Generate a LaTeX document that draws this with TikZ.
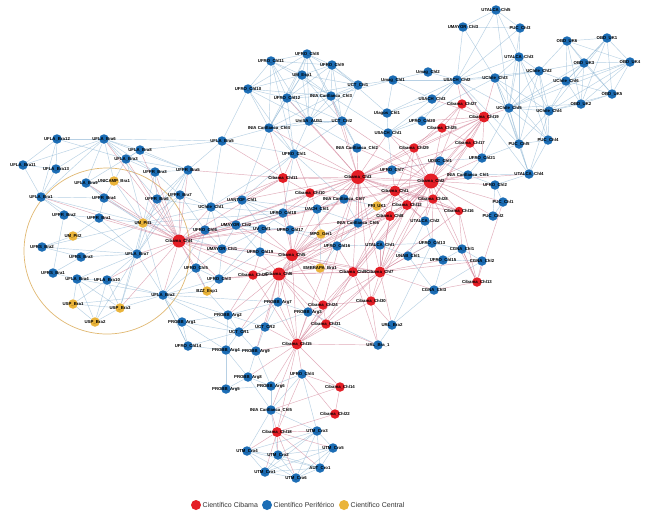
\documentclass[tikz,border=0pt]{standalone}
\usepackage{fontspec}
\setmainfont{Liberation Sans}
\usetikzlibrary{backgrounds}
\definecolor{nred}{RGB}{228,30,38}
\definecolor{nblue}{RGB}{28,109,181}
\definecolor{nyel}{RGB}{234,180,58}
\definecolor{eblue}{RGB}{135,178,210}
\definecolor{ered}{RGB}{205,115,140}
\definecolor{ring}{RGB}{225,185,115}
\tikzset{
  bn/.style={circle,fill=nblue,inner sep=0pt,minimum size=9.5pt},
  rn/.style={circle,fill=nred,inner sep=0pt},
  yn/.style={circle,fill=nyel,inner sep=0pt,minimum size=9.5pt},
  lbl/.style={inner sep=0pt,font=\fontsize{4.3}{5}\selectfont\bfseries,text=black},
  eb/.style={draw=eblue,line width=0.45pt,draw opacity=0.6},
  er/.style={draw=ered,line width=0.45pt,draw opacity=0.6},
  legtext/.style={inner sep=0pt,anchor=west,font=\fontsize{7}{8}\selectfont,text=black!80}
}
\newcommand\Bn[3]{\node[bn,label={[lbl]center:#3}] (#1) at (#2) {};}
\newcommand\Rn[4]{\node[rn,minimum size=#3pt,label={[lbl]center:#4}] (#1) at (#2) {};}
\newcommand\Yn[3]{\node[yn,label={[lbl]center:#3}] (#1) at (#2) {};}
\begin{document}
\begin{tikzpicture}[x=1pt,y=-1pt]
\useasboundingbox (0,0) rectangle (650,520);
% top cluster
\Bn{f8}{307,54}{UFRO\_Chl8}
\Bn{f11}{271,61}{UFRO\_Chl11}
\Bn{f9}{332,65}{UFRO\_Chl9}
\Bn{ume}{302,75}{UM\_Esp1}
\Bn{uct1}{358,85}{UCT\_Chl1}
\Bn{f10}{248,89}{UFRO\_Chl10}
\Bn{in3}{331,96}{INIA Carillanca\_Chl3}
\Bn{f12}{287,98}{UFRO\_Chl12}
\Bn{usa}{309,121}{UniSA\_AUS1}
\Bn{uct2}{342,121}{UCT\_Chl2}
\Bn{in4}{269,128}{INIA Carillanca\_Chl4}
\Bn{f1}{294,154}{UFRO\_Chl1}
\Bn{in2}{357,148}{INIA Carillanca\_Chl2}
% top right
\Bn{ut5}{496,10}{UTALCA\_Chl5}
\Bn{um3}{463,27}{UMAYOR\_Chl3}
\Bn{pc3}{520,28}{PUC\_Chl3}
\Bn{ut3}{519,57}{UTALCA\_Chl3}
\Bn{uc2}{539,71}{UChile\_Chl2}
\Bn{mg2}{428,72}{Umag\_Chl2}
\Bn{mg1}{393,80}{Umag\_Chl1}
\Bn{us2}{457,80}{USACH\_Chl2}
\Bn{uc3}{495,78}{UChile\_Chl3}
\Bn{us3}{432,99}{USACH\_Chl3}
\Rn{c27}{462,104}{9.5}{Cibama\_Chl27}
\Bn{uc5}{509,108}{UChile\_Chl5}
\Bn{uc4}{549,111}{UChile\_Chl4}
\Bn{ul1}{387,113}{Ulagos\_Chl1}
\Bn{f20}{422,121}{UFRO\_Chl20}
\Rn{c19}{484,117}{11}{Cibama\_Chl19}
\Rn{c25}{442,128}{9.5}{Cibama\_Chl25}
\Bn{us1}{388,133}{USACH\_Chl1}
\Bn{pc4}{548,140}{PUC\_Chl4}
\Bn{pc5}{519,144}{PUC\_Chl5}
\Rn{c17}{470,143}{9.5}{Cibama\_Chl17}
\Rn{c29}{414,148}{9.5}{Cibama\_Chl29}
\Bn{f21}{482,158}{UFRO\_Chl21}
\Bn{ut4}{529,174}{UTALCA\_Chl4}
% OBD
\Bn{ob6}{567,41}{OBD\_UK6}
\Bn{ob1}{607,38}{OBD\_UK1}
\Bn{ob3}{584,63}{OBD\_UK3}
\Bn{ob4}{630,62}{OBD\_UK4}
\Bn{uc6}{566,81}{UChile\_Chl6}
\Bn{ob5}{612,94}{OBD\_UK5}
\Bn{ob2}{581,104}{OBD\_UK2}
% middle right
\Bn{ud1}{440,161}{UDEC\_Chl1}
\Bn{f7}{392,170}{UFRO\_Chl7}
\Rn{c2}{431,181}{15}{Cibama\_Chl2}
\Bn{in1}{468,175}{INIA Carillanca\_Chl1}
\Bn{f2}{495,185}{UFRO\_Chl2}
\Rn{c1}{395,191}{11}{Cibama\_Chl1}
\Rn{c28}{433,199}{9.5}{Cibama\_Chl28}
\Bn{pc1}{503,202}{PUC\_Chl1}
\Rn{c12}{407,205}{10}{Cibama\_Chl12}
\Rn{c16}{459,211}{8.5}{Cibama\_Chl16}
\Rn{c8}{390,216}{10}{Cibama\_Chl8}
\Bn{ut2}{425,221}{UTALCA\_Chl2}
\Bn{pc2}{493,216}{PUC\_Chl2}
\Bn{f13}{432,243}{UFRO\_Chl13}
\Bn{cg1}{462,249}{CGNA\_Chl1}
\Bn{ua1}{408,256}{UNAB\_Chl1}
\Bn{f15}{443,260}{UFRO\_Chl15}
\Bn{cg2}{482,261}{CGNA\_Chl2}
\Rn{c7}{380,272}{11}{Cibama\_Chl7}
\Rn{c13}{477,282}{9.5}{Cibama\_Chl13}
\Bn{cg3}{434,290}{CGNA\_Chl3}
\Bn{ut1}{380,245}{UTALCA\_Chl1}
% center
\Rn{c11}{283,178}{10}{Cibama\_Chl11}
\Rn{c3}{358,177}{14}{Cibama\_Chl3}
\Rn{c10}{310,193}{9.5}{Cibama\_Chl10}
\Bn{in7}{344,199}{INIA Carillanca\_Chl7}
\Yn{pri}{377,206}{PRI\_UK1}
\Bn{uch1}{211,207}{UChile\_Chl1}
\Bn{uan}{242,200}{UANTOF\_Chl1}
\Bn{f18}{283,213}{UFRO\_Chl18}
\Bn{uac}{317,209}{UACH\_Chl1}
\Bn{f6}{205,230}{UFRO\_Chl6}
\Bn{um2}{236,225}{UMAYOR\_Chl2}
\Bn{uv1}{262,229}{UV\_Chl1}
\Bn{f17}{290,230}{UFRO\_Chl17}
\Yn{mpg}{321,234}{MPG\_Ger1}
\Bn{in6}{358,223}{INIA Carillanca\_Chl6}
\Bn{f16}{337,246}{UFRO\_Chl16}
\Bn{um1}{222,249}{UMAYOR\_Chl1}
\Bn{f19}{260,252}{UFRO\_Chl19}
\Rn{c5}{292,255}{12}{Cibama\_Chl5}
\Yn{emb}{320,268}{EMBRAPA\_Bra1}
\Bn{f5}{196,268}{UFRO\_Chl5}
\Bn{f3}{219,279}{UFRO\_Chl3}
\Rn{c26}{253,275}{9.5}{Cibama\_Chl26}
\Rn{c6}{279,274}{13}{Cibama\_Chl6}
\Rn{c9}{353,272}{10}{Cibama\_Chl9}
\Yn{bzz}{207,291}{BZZ\_Esp1}
\Rn{c4}{179,241}{13}{Cibama\_Chl4}
% lower
\Bn{a7}{278,302}{PROBB\_Arg7}
\Bn{a3}{308,312}{PROBB\_Arg3}
\Bn{a2}{228,315}{PROBB\_Arg2}
\Bn{a1}{182,322}{PROBB\_Arg1}
\Rn{c24}{323,305}{9.5}{Cibama\_Chl24}
\Rn{c31}{326,324}{9.5}{Cibama\_Chl31}
\Bn{cr1}{239,332}{UCT\_CR1}
\Bn{cr2}{265,327}{UCT\_CR2}
\Bn{f14}{188,346}{UFRO\_Chl14}
\Bn{a4}{226,350}{PROBB\_Arg4}
\Bn{a9}{256,351}{PROBB\_Arg9}
\Rn{c15}{297,344}{11}{Cibama\_Chl15}
\Rn{c30}{371,301}{9.5}{Cibama\_Chl30}
\Bn{ur2}{392,325}{URL\_Bra2}
\Bn{ur1}{378,345}{URL\_Bra\_1}
\Bn{a8}{248,377}{PROBB\_Arg8}
\Bn{a5}{226,389}{PROBB\_Arg5}
\Bn{a6}{271,386}{PROBB\_Arg6}
\Bn{f4}{302,374}{UFRO\_Chl4}
\Rn{c14}{340,387}{9.5}{Cibama\_Chl14}
\Bn{in5}{271,410}{INIA Carillanca\_Chl5}
\Rn{c22}{335,414}{9.5}{Cibama\_Chl22}
\Rn{c18}{277,432}{10}{Cibama\_Chl18}
\Bn{t3}{317,431}{UTM\_Cro3}
\Bn{t5}{333,448}{UTM\_Cro5}
\Bn{t4}{247,451}{UTM\_Cro4}
\Bn{t2}{278,455}{UTM\_Cro2}
\Bn{t1}{265,472}{UTM\_Cro1}
\Bn{au1}{320,468}{AUT\_Cro1}
\Bn{t6}{296,478}{UTM\_Cro6}
% left
\Bn{l12}{57,139}{UFLA\_Bra12}
\Bn{l6}{104,139}{UFLA\_Bra6}
\Bn{l8}{140,150}{UFLA\_Bra8}
\Bn{l11}{23,165}{UFLA\_Bra11}
\Bn{l13}{56,169}{UFLA\_Bra13}
\Bn{l3}{126,159}{UFLA\_Bra3}
\Bn{p3}{155,172}{UFPR\_Bra3}
\Bn{p5}{188,170}{UFPR\_Bra5}
\Bn{l5}{222,141}{UFLA\_Bra5}
\Bn{l9}{86,183}{UFLA\_Bra9}
\Yn{uni}{114,181}{UNICAMP\_Bra1}
\Bn{l1}{41,197}{UFLA\_Bra1}
\Bn{p4}{104,198}{UFPR\_Bra4}
\Bn{p6}{157,199}{UFPR\_Bra6}
\Bn{p7}{180,195}{UFPR\_Bra7}
\Bn{p2}{64,215}{UFPR\_Bra2}
\Bn{p1}{99,218}{UFPR\_Bra1}
\Yn{pit1}{143,223}{UM\_Pit1}
\Yn{pit2}{73,236}{UM\_Pit2}
\Bn{s2}{42,247}{UFRS\_Bra2}
\Bn{s3}{81,257}{UFRS\_Bra3}
\Bn{l7}{137,254}{UFLA\_Bra7}
\Bn{s1}{53,273}{UFRS\_Bra1}
\Bn{l4}{77,279}{UFLA\_Bra4}
\Bn{l10}{107,280}{UFLA\_Bra10}
\Bn{l2}{163,295}{UFLA\_Bra2}
\Yn{usp1}{73,304}{USP\_Bra1}
\Yn{usp3}{120,308}{USP\_Bra3}
\Yn{usp2}{95,322}{USP\_Bra2}
% legend
\node[circle,fill=nred,inner sep=0pt,minimum size=10pt] (lgr) at (196,505) {};
\node[legtext] (lgrt) at (202.5,505) {Científico Cibama};
\node[circle,fill=nblue,inner sep=0pt,minimum size=10pt] (lgb) at (267,505) {};
\node[legtext] (lgbt) at (273.5,505) {Científico Periférico};
\node[circle,fill=nyel,inner sep=0pt,minimum size=10pt] (lgy) at (344,505) {};
\node[legtext] (lgyt) at (350.5,505) {Científico Central};
\begin{pgfonlayer}{background}
\fill[white] (0,0) rectangle (650,520);
\draw[ring,line width=0.7pt] (107,251) circle (83);
\foreach \a/\b in {f8/f11,f8/f9,f8/ume,f8/uct1,f8/f10,f8/in3,f8/f12,f8/usa,f8/uct2,f8/in4,
f11/f9,f11/ume,f11/f10,f11/f12,f11/in3,f11/usa,f11/in4,f11/f1,
f9/ume,f9/uct1,f9/in3,f9/f12,f9/usa,f9/uct2,f9/ul1,
ume/uct1,ume/f10,ume/in3,ume/f12,ume/usa,ume/uct2,ume/in4,
uct1/in3,uct1/usa,uct1/uct2,uct1/f12,uct1/mg1,
f10/f12,f10/in4,f10/usa,f10/in3,f10/f1,f10/l5,
in3/f12,in3/usa,in3/uct2,in3/in4,in3/mg1,in3/us1,in3/in2,
f12/usa,f12/in4,f12/uct2,f12/f1,
usa/uct2,usa/in4,usa/f1,usa/in2,
uct2/in4,uct2/f1,uct2/in2,
in4/f1,in4/l5,in4/uan,
f1/uan,f1/uch1,f1/f18,f1/in7,f1/l5,
ut5/um3,ut5/pc3,ut5/us2,ut5/ut3,ut5/uc5,um3/pc3,um3/us2,um3/uc3,pc3/ut3,pc3/us2,pc3/uc5,
ut3/uc2,ut3/us2,ut3/uc5,ut3/pc5,ut3/pc4,ut3/uc4,ut3/uc3,
uc2/uc3,uc2/uc5,uc2/uc4,uc2/us2,uc2/pc5,uc2/pc4,uc2/ob6,uc2/uc6,uc2/ob3,
mg2/mg1,mg2/us2,mg1/us2,mg1/us3,mg1/ul1,
us2/uc3,us2/us3,us2/uc5,us2/ul1,us2/us1,us2/f20,us2/ut4,us2/pc5,
uc3/uc5,uc3/uc4,uc3/pc5,uc3/pc4,uc3/ut4,uc3/us1,
uc5/uc4,uc5/pc5,uc5/pc4,uc5/ut4,uc5/f21,uc5/uc6,uc5/ob2,uc5/ob3,uc5/ob4,
uc4/pc5,uc4/pc4,uc4/ut4,uc4/ob2,uc4/ob5,uc4/uc6,uc4/ob4,uc4/ob1,
us3/ul1,us1/ul1,pc4/pc5,pc5/ut4,pc4/ut4,pc5/f21,us1/f7,f20/us1,
ob6/ob1,ob6/ob3,ob6/ob4,ob6/uc6,ob6/ob5,ob6/ob2,ob1/ob3,ob1/ob4,ob1/uc6,ob1/ob5,ob1/ob2,ob3/ob4,ob3/uc6,ob3/ob5,ob3/ob2,ob4/uc6,ob4/ob5,ob4/ob2,uc6/ob5,uc6/ob2,ob5/ob2,
uch1/uan,uch1/f6,uch1/um2,uch1/um1,uch1/f18,uan/f18,uan/um2,uan/uv1,uan/uac,uan/f17,
f18/uac,f18/uv1,f18/f17,f18/um2,f6/um2,f6/um1,f6/uv1,f6/f5,um2/uv1,um2/um1,um2/f19,um2/f17,
uv1/f17,uv1/um1,uv1/f19,uv1/f3,f17/mpg,f17/f16,um1/f19,um1/f5,um1/f3,f19/f3,f5/f3,f5/bzz,f3/bzz,
uac/in7,uac/in6,uac/mpg,in7/in6,in6/f16,in6/mpg,f16/emb,f16/ut1,mpg/emb,in7/pri,pri/in6,
ut1/ua1,ut1/f13,ua1/f13,ua1/f15,f13/cg1,f13/f15,f15/cg1,f15/cg2,cg1/cg2,f15/cg3,ua1/cg3,cg2/cg3,
ut2/f13,ut2/ua1,ud1/f7,ud1/in1,in1/f2,f2/pc1,pc1/pc2,f2/pc2,in1/ut4,f2/ut4,ud1/f21,in1/f21,
a7/a3,a7/cr2,a7/a2,a7/cr1,a2/a1,a2/cr1,a2/cr2,a2/a4,a1/cr1,a1/l2,a1/a4,cr1/cr2,cr1/a4,cr1/a9,cr2/a9,cr2/a3,
a4/a9,a4/a8,a4/a5,a9/a8,a9/a6,a8/a5,a8/a6,a5/a6,f14/a1,f14/a4,f14/l2,bzz/a2,l2/a2,l2/f3,l2/f5,l2/a7,
ur2/ur1,ur2/cg3,ur2/f13,ur1/a3,f4/in5,f4/t3,f4/a6,in5/t3,in5/t4,in5/t2,
t3/t5,t3/t2,t3/t1,t3/au1,t3/t6,t3/t4,t5/au1,t5/t6,t5/t2,t4/t2,t4/t1,t4/t6,t2/t1,t2/t6,t2/au1,t1/t6,t1/au1,au1/t6,t4/au1,t1/t5,
a6/in5,a8/in5,f14/cr1,
l12/l6,l12/l11,l12/l13,l12/l1,l12/l3,l6/l8,l6/l3,l6/l13,l6/l11,l6/l1,l6/l5,l6/p3,l6/p5,l6/p6,l6/l9,l6/uni,
l8/l3,l8/l5,l8/p5,l11/l13,l11/l1,l13/l1,l3/uni,l3/p3,l3/p5,l3/pit1,p3/p5,p3/p6,p3/p7,p3/pit1,
p5/p7,p5/p6,p5/pit1,p5/l7,l9/uni,l9/p4,l9/pit1,uni/p4,uni/pit1,l1/p2,l1/l7,l1/p4,l1/pit1,
p4/p1,p4/pit1,p6/p7,p6/pit1,p6/l7,p7/pit1,p7/l7,p2/p1,p2/s1,p1/pit1,p1/l7,pit1/l7,pit1/l2,
pit2/s2,pit2/p1,s2/s3,s2/l7,s2/pit1,s3/l7,s3/pit1,s1/l4,s1/s3,l7/l4,l7/l10,l7/l2,l7/usp3,l7/usp2,
l4/l10,l4/usp1,l4/usp2,l4/usp3,l4/l2,l10/usp3,l10/usp2,l10/usp1,l10/l2,usp1/usp2,usp3/usp2,usp1/usp3,
l2/usp3,l2/usp1,pit1/usp3,p7/uch1,p6/uch1,p7/f6,l2/bzz,l2/cr1,l2/f6,pit1/f6,pit1/um1,pit1/f18,pit1/uan,p5/uch1,l5/p5,l5/uch1,l8/l9,l2/f14}
  \draw[eb] (\a) -- (\b);
\foreach \a/\b in {c3/f1,c3/in4,c3/usa,c3/uct2,c3/in3,c3/f12,c11/f1,c11/in4,c2/uct2,c2/in2,c10/f1,
c19/us2,c19/uc3,c19/us3,c19/c27,c19/c25,c19/c17,c19/c29,c19/uc5,c19/f20,c19/c2,c19/c3,c19/c1,c19/c28,c19/c12,c19/f21,
c27/us2,c27/c25,c27/c2,c27/c29,c25/c2,c25/c3,c25/c29,c25/c17,c17/c2,c17/c3,c17/c28,c29/c2,c29/c3,c29/c1,c29/c12,c29/c28,c29/us1,c17/f21,
c2/c3,c2/c1,c2/c28,c2/c12,c2/c16,c2/c8,c2/c7,c2/c9,c2/c5,c2/c6,c2/c4,c2/c10,c2/c11,c2/ud1,c2/f7,c2/in1,c2/f2,c2/pc1,c2/ut2,c2/pc2,c2/ut4,c2/f21,c2/us1,c2/c13,c2/c30,c2/c15,
c3/c1,c3/c28,c3/c12,c3/c8,c3/c7,c3/c9,c3/c5,c3/c6,c3/c4,c3/c10,c3/c11,c3/f7,c3/in2,c3/ud1,c3/in7,c3/uac,c3/in6,c3/c15,c3/c24,c3/c16,c3/f18,c3/uan,c3/us1,c3/c30,
c1/c28,c1/c12,c1/c8,c1/c7,c1/c9,c1/c5,c1/c6,c1/c4,c1/c16,c1/f7,c1/in1,c1/ut2,
c12/c8,c12/c28,c12/c7,c12/c9,c12/c5,c12/c16,c12/ut2,
c8/c7,c8/c9,c8/c5,c8/c6,c8/c4,c8/in6,c8/pri,
c28/c16,c28/c7,c28/c13,c28/ut2,c28/f13,
c16/c13,c16/c7,c16/cg1,
c7/c9,c7/c5,c7/c6,c7/c4,c7/c30,c7/c15,c7/c31,c7/c24,c7/ut1,c7/ua1,c7/cg3,c7/f13,c7/ur2,c7/cg2,c7/f15,
c9/c5,c9/c6,c9/c30,c9/c24,c9/c15,c9/emb,c9/f16,c9/c31,c9/ur1,
c5/c6,c5/c4,c5/c26,c5/c10,c5/c11,c5/f17,c5/mpg,c5/emb,c5/f16,c5/uv1,c5/f19,c5/um2,c5/c15,c5/a7,c5/c24,c5/f18,c5/uac,
c6/c26,c6/c4,c6/c15,c6/a7,c6/a3,c6/cr2,c6/cr1,c6/a2,c6/f19,c6/f3,c6/emb,c6/c24,c6/c31,c6/a9,c6/mpg,c6/f16,
c4/c26,c4/c10,c4/c11,c4/pit1,c4/f6,c4/uch1,c4/um1,c4/f5,c4/f3,c4/l7,c4/p7,c4/p6,c4/l2,c4/p3,c4/p5,c4/um2,c4/uv1,c4/f18,c4/l10,c4/usp3,c4/l3,c4/bzz,c4/uni,
c4/l6,c4/l8,c4/l9,c4/p4,c4/p1,c4/l1,
c26/f3,c26/f19,c26/c15,c26/a2,
c15/c24,c15/c31,c15/a3,c15/a7,c15/f4,c15/c14,c15/a9,c15/cr2,c15/c30,c15/a6,c15/a8,c15/in5,c15/ur1,c15/c18,
c14/f4,c14/c22,c14/in5,
c18/in5,c18/t3,c18/t4,c18/t2,c18/t1,c18/au1,c18/t6,c18/t5,c18/f4,c18/c22,
c22/f4,
c13/cg2,c13/cg1,c13/cg3,c13/pc1,
c30/ur2,c30/ur1,c30/c24,
c10/c11,c10/uac,c10/f18,c10/in7,
c11/uan,c11/l5,c11/p5,c11/uch1,
c24/a3,c24/c31,c31/ur1}
  \draw[er] (\a) -- (\b);
\end{pgfonlayer}
\end{tikzpicture}
\end{document}
